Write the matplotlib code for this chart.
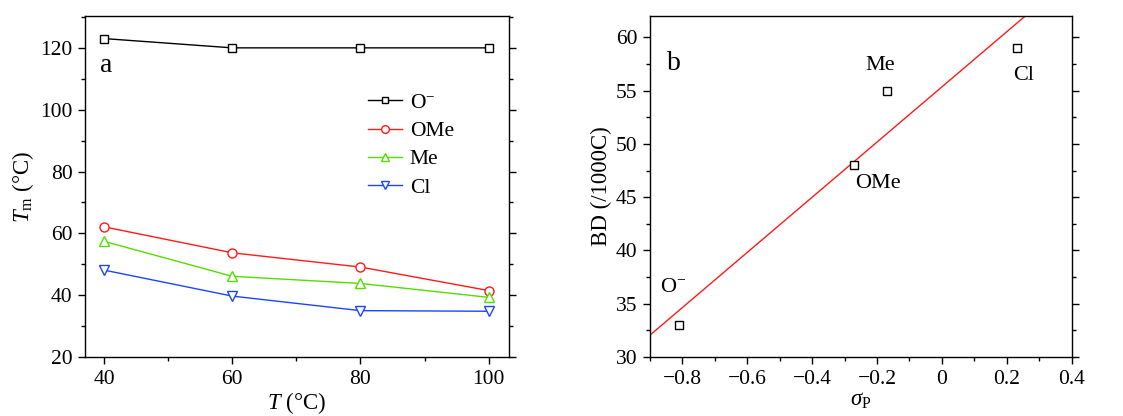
import matplotlib
matplotlib.use("Agg")
import matplotlib.pyplot as plt
from matplotlib.ticker import MultipleLocator
import numpy as np

plt.rcParams['font.family'] = ['Liberation Serif', 'DejaVu Serif']
plt.rcParams['mathtext.fontset'] = 'custom'
plt.rcParams['mathtext.rm'] = 'Liberation Serif'
plt.rcParams['mathtext.it'] = 'Liberation Serif:italic'
plt.rcParams['font.size'] = 15

# panel a: melting temperature vs polymerisation temperature
temps = [40, 60, 80, 100]
tm_o = [123, 120, 120, 120]
tm_ome = [62.1, 53.7, 49.1, 41.5]
tm_me = [57.4, 46.1, 43.8, 39.3]
tm_cl = [48.1, 39.7, 35.0, 34.8]

# panel b: branching density vs Hammett sigma_p
groups = ["O$^{-}$", "OMe", "Me", "Cl"]
sigma_p = [-0.81, -0.27, -0.17, 0.23]
bd = [33, 48, 55, 59]

fig = plt.figure(figsize=(11.23, 4.16), dpi=100)
ax1 = fig.add_axes([0.0757, 0.1418, 0.3776, 0.8197])
ax2 = fig.add_axes([0.5788, 0.1418, 0.3755, 0.8197])


def style(ax):
    for s in ax.spines.values():
        s.set_linewidth(1.0)
    ax.tick_params(which='both', direction='out', right=True, top=False,
                   labelsize=15.5, width=1.0)
    ax.tick_params(which='major', length=5, pad=4)
    ax.tick_params(which='minor', length=3)


series = [
    (tm_o, 'black', 's', 5.5, groups[0]),
    (tm_ome, '#ff1a1a', 'o', 6.5, groups[1]),
    (tm_me, '#55dd00', '^', 7, groups[2]),
    (tm_cl, '#1a44ff', 'v', 7, groups[3]),
]
for vals, col, mk, ms, lab in series:
    ax1.plot(temps, vals, color=col, marker=mk, markersize=ms,
             markerfacecolor='white', markeredgecolor=col,
             markeredgewidth=1.0, linewidth=1.0, label=lab)

ax1.set_xlim(37, 103.2)
ax1.set_ylim(20, 130.3)
ax1.xaxis.set_major_locator(MultipleLocator(20))
ax1.xaxis.set_minor_locator(MultipleLocator(10))
ax1.yaxis.set_major_locator(MultipleLocator(20))
ax1.yaxis.set_minor_locator(MultipleLocator(10))
style(ax1)
ax1.set_xlabel("$T$ (°C)", fontsize=16.5, labelpad=1)
ax1.set_ylabel("$T_\\mathrm{m}$ (°C)", fontsize=16.5, labelpad=3)
ax1.text(0.035, 0.856, "a", transform=ax1.transAxes, fontsize=20,
         va='center', ha='left')
ax1.legend(loc='upper right', bbox_to_anchor=(0.89, 0.80), frameon=False,
           fontsize=15.5, handlelength=1.6, handletextpad=0.35,
           labelspacing=0.38, borderaxespad=0, markerscale=0.85)

# linear fit through the four points
slope, intercept = np.polyfit(sigma_p, bd, 1)
xfit = np.array([-0.9, 0.4])
ax2.plot(xfit, slope * xfit + intercept, color='#ff1a1a', linewidth=1.0)
ax2.plot(sigma_p, bd, linestyle='none', marker='s', markersize=5.5,
         markerfacecolor='white', markeredgecolor='black',
         markeredgewidth=1.0)

label_pos = [(-0.828, 36.5), (-0.196, 46.3), (-0.189, 57.4), (0.251, 56.4)]
for g, (lx, ly) in zip(groups, label_pos):
    ax2.text(lx, ly, g, fontsize=16, ha='center', va='center')

ax2.set_xlim(-0.9, 0.4)
ax2.set_ylim(30, 62)
ax2.xaxis.set_major_locator(MultipleLocator(0.2))
ax2.xaxis.set_minor_locator(MultipleLocator(0.1))
ax2.yaxis.set_major_locator(MultipleLocator(5))
ax2.yaxis.set_minor_locator(MultipleLocator(2.5))
ax2.xaxis.set_major_formatter(
    plt.FuncFormatter(lambda v, p: "0" if abs(v) < 1e-9 else f"{v:.1f}".replace('-', '\u2212')))
style(ax2)
ax2.set_xlabel("$\\sigma_\\mathrm{P}$", fontsize=16.5, labelpad=1)
ax2.set_ylabel("BD (/1000C)", fontsize=16.5, labelpad=3)
ax2.text(0.04, 0.86, "b", transform=ax2.transAxes, fontsize=20,
         va='center', ha='left')

fig.savefig("out.png", dpi=100)
